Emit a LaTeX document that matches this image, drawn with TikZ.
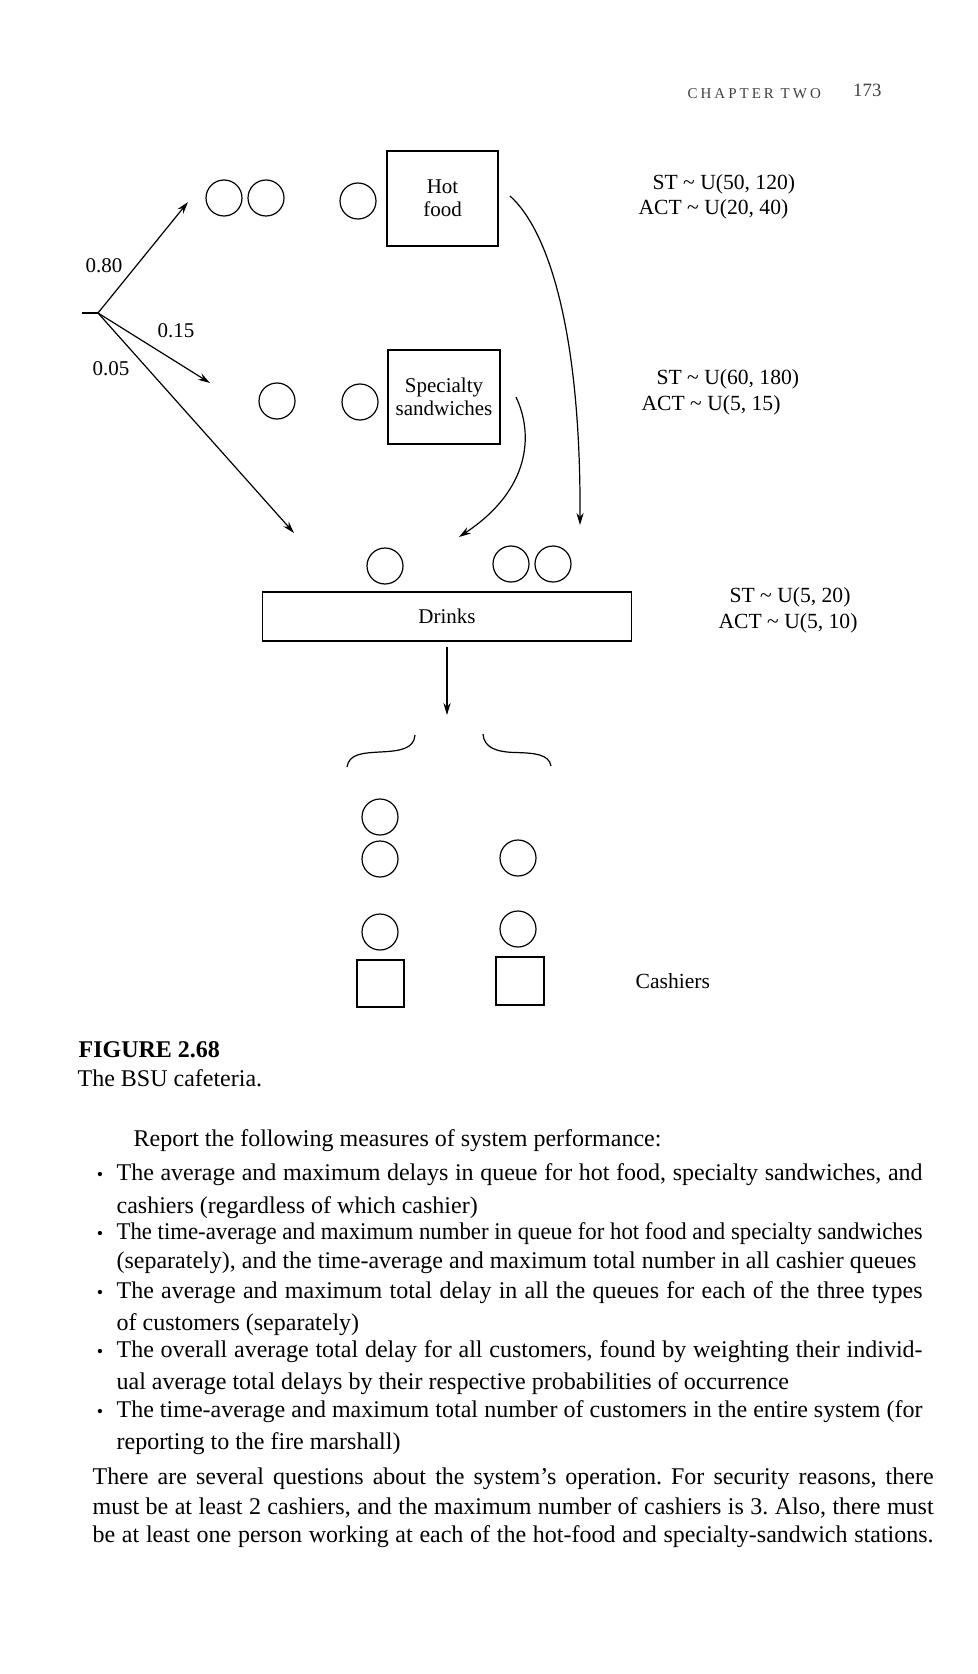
\documentclass[tikz,border=0pt]{standalone}
\usepackage{fontspec}
\usepackage{graphicx}
\setmainfont{Liberation Serif}
\newfontfamily\headfont[LetterSpace=20]{Liberation Serif}
\usetikzlibrary{arrows.meta}
\frenchspacing

% one justified text line of a given width
\newsavebox{\fitbox}
\newcommand{\fitline}[2]{\sbox{\fitbox}{#2}\ifdim\wd\fitbox>#1\relax\resizebox{#1}{\height}{\usebox{\fitbox}}\else\makebox[#1][s]{#2}\fi}

\begin{document}
\begin{tikzpicture}[x=0.5pt,y=-0.5pt,->,>={Stealth[length=6pt,width=3.6pt]},line width=0.6pt,node distance=21pt,
  cust node/.style={circle,draw,minimum size=18pt,inner sep=0pt},
  desk node/.style={rectangle,draw,inner sep=0pt,align=center,font=\fontsize{10.5}{11.5}\selectfont},
  till node/.style={rectangle,draw,minimum size=24pt,inner sep=0pt},
  dist node/.style={anchor=base west,inner sep=0pt,font=\fontsize{10.8}{12}\selectfont},
  body line/.style={anchor=base west,inner sep=0pt,font=\fontsize{12}{14}\selectfont},
  dot node/.style={anchor=base,inner sep=0pt,font=\fontsize{9}{14}\selectfont}]

  \path[-,use as bounding box,fill=white] (0,0) rectangle (978,1674);

  % running head
  \node[anchor=base west,inner sep=0pt,text=black!75,font=\headfont\fontsize{7.5}{9}\selectfont] (head) at (687,99) {CHAPTER TWO};
  \node[anchor=base east,inner sep=0pt,text=black!75,font=\fontsize{9.4}{11}\selectfont] (folio) at (882,97) {173};

  % stations and queues
  \node[cust node] (1) at (224,198) {};
  \node[cust node] (2) [right of = 1] {};
  \node[cust node] (3) at (358,201) {};
  \node[desk node,minimum width=55.5pt,minimum height=47.5pt] (4) at (442.5,198.5) {Hot\\food};
  \node[cust node] (5) at (277,401) {};
  \node[cust node] (6) at (360,402) {};
  \node[desk node,minimum width=56pt,minimum height=47pt] (7) at (444,397) {Specialty\\sandwiches};
  \node[cust node] (8) at (385,566) {};
  \node[cust node] (9) at (511,564) {};
  \node[cust node] (10) [right of = 9] {};
  \node[desk node,minimum width=184.5pt,minimum height=24.5pt] (11) at (447,616.5) {Drinks};
  \node[cust node] (12) at (380,817) {};
  \node[cust node] (13) [below of = 12] {};
  \node[cust node] (14) at (380,932) {};
  \node[cust node] (15) at (518,858) {};
  \node[cust node] (16) at (518,929) {};
  \node[till node,minimum size=23.5pt] (17) at (380.5,983.5) {};
  \node[till node] (18) at (520,981) {};

  % service and arrival times
  \node[dist node] (st1) at (652,190) {ST \textasciitilde{} U(50, 120)};
  \node[dist node] (act1) at (638,215) {ACT \textasciitilde{} U(20, 40)};
  \node[dist node] (st2) at (656,385) {ST \textasciitilde{} U(60, 180)};
  \node[dist node] (act2) at (641,410) {ACT \textasciitilde{} U(5, 15)};
  \node[dist node] (st3) at (729,602) {ST \textasciitilde{} U(5, 20)};
  \node[dist node] (act3) at (718,628) {ACT \textasciitilde{} U(5, 10)};
  \node[dist node] (cash) at (635,988) {Cashiers};

  % routing
  \coordinate (in) at (82,313);
  \coordinate (b) at (98,313);
  \coordinate (e1) at (188,202);
  \coordinate (e2) at (210,383);
  \coordinate (e3) at (294,533);
  \coordinate (h) at (510,196);
  \coordinate (e4) at (580,525);
  \coordinate (s) at (516,397);
  \coordinate (e5) at (459,537);
  \coordinate (e6) at (447,715);

  \draw[-] (in) -- (b);
  \draw (b) -- (e1);
  \draw (b) -- (e2);
  \draw (b) -- (e3);
  \draw (h) .. controls (548,230) and (581,330) .. (e4);
  \draw (s) .. controls (534,435) and (530,490) .. (e5);
  \draw ([yshift=-2.5pt]11.south) -- (e6);

  \node[dist node,font=\fontsize{10.5}{12}\selectfont] (p1) at (85,273) {0.80};
  \node[dist node,font=\fontsize{10.5}{12}\selectfont] (p2) at (157,338) {0.15};
  \node[dist node,font=\fontsize{10.5}{12}\selectfont] (p3) at (92,375) {0.05};

  % split to the cashiers
  \draw[-] (347,767) .. controls (349,754) and (362,753) .. (380,752) .. controls (400,751) and (414,749) .. (415,735);
  \draw[-] (483,734) .. controls (484,748) and (497,752) .. (515,752.5) .. controls (534,753) and (549,754) .. (551,766);

  % caption
  \node[anchor=base west,inner sep=0pt,font=\bfseries\fontsize{12}{14}\selectfont] (cap) at (78,1057) {FIGURE 2.68};
  \node[anchor=base west,inner sep=0pt,font=\fontsize{12}{14}\selectfont] (title) at (77,1086) {The BSU cafeteria.};

  % text
  \node[body line] (t0) at (133,1146) {Report the following measures of system performance:};
  \node[dot node] (u1) at (100,1180) {\textbullet};
  \node[body line] (t1) at (116,1180) {\fitline{403pt}{The average and maximum delays in queue for hot food, specialty sandwiches, and}};
  \node[body line] (t2) at (116,1213) {cashiers (regardless of which cashier)};
  \node[dot node] (u2) at (100,1239) {\textbullet};
  \node[body line] (t3) at (116,1239) {\fitline{403pt}{The time-average and maximum number in queue for hot food and specialty sandwiches}};
  \node[body line] (t4) at (116,1268) {(separately), and the time-average and maximum total number in all cashier queues};
  \node[dot node] (u3) at (100,1298) {\textbullet};
  \node[body line] (t5) at (116,1298) {\fitline{403pt}{The average and maximum total delay in all the queues for each of the three types}};
  \node[body line] (t6) at (116,1330) {of customers (separately)};
  \node[dot node] (u4) at (100,1357) {\textbullet};
  \node[body line] (t7) at (116,1357) {\fitline{403pt}{The overall average total delay for all customers, found by weighting their individ-}};
  \node[body line] (t8) at (116,1389) {ual average total delays by their respective probabilities of occurrence};
  \node[dot node] (u5) at (100,1417) {\textbullet};
  \node[body line] (t9) at (116,1417) {\fitline{403pt}{The time-average and maximum total number of customers in the entire system (for}};
  \node[body line] (t10) at (116,1449) {reporting to the fire marshall)};
  \node[body line] (t11) at (92,1484) {\fitline{420.5pt}{There are several questions about the system’s operation. For security reasons, there}};
  \node[body line] (t12) at (92,1514) {\fitline{420.5pt}{must be at least 2 cashiers, and the maximum number of cashiers is 3. Also, there must}};
  \node[body line] (t13) at (92,1542) {\fitline{420.5pt}{be at least one person working at each of the hot-food and specialty-sandwich stations.}};
\end{tikzpicture}
\end{document}
